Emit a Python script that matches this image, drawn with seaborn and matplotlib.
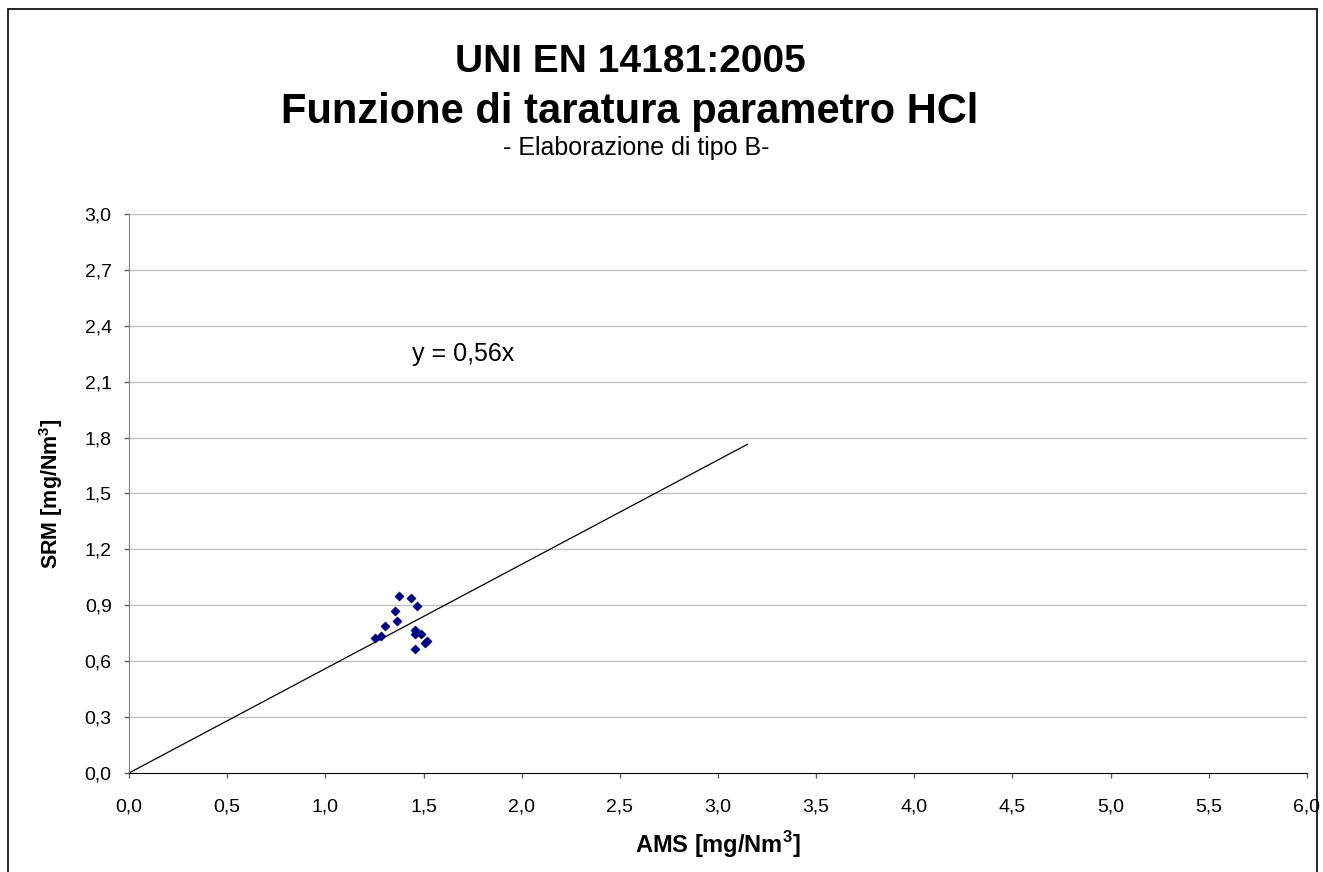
#!/usr/bin/env python3
"""Calibration function scatter (UNI EN 14181:2005), HCl parameter."""

import matplotlib.pyplot as plt
import pandas as pd
import seaborn as sns
from matplotlib.patches import Rectangle

AMS = [1.375, 1.436, 1.467, 1.355, 1.365, 1.304, 1.253, 1.284,
       1.457, 1.457, 1.487, 1.518, 1.508, 1.457]
SRM = [0.949, 0.938, 0.895, 0.871, 0.818, 0.788, 0.724, 0.735,
       0.765, 0.744, 0.744, 0.711, 0.700, 0.668]

# calibration line y = 0.56x, drawn to the last point of the trend
LINE_X = [0.0, 3.15]
LINE_Y = [0.0, 1.764]

X_TICKS = [0.0, 0.5, 1.0, 1.5, 2.0, 2.5, 3.0, 3.5, 4.0, 4.5, 5.0, 5.5, 6.0]
X_TICK_LABELS = ["0,0", "0,5", "1,0", "1,5", "2,0", "2,5", "3,0",
                 "3,5", "4,0", "4,5", "5,0", "5,5", "6,0"]
Y_TICKS = [0.0, 0.3, 0.6, 0.9, 1.2, 1.5, 1.8, 2.1, 2.4, 2.7, 3.0]
Y_TICK_LABELS = ["0,0", "0,3", "0,6", "0,9", "1,2", "1,5",
                 "1,8", "2,1", "2,4", "2,7", "3,0"]

W, H = 1323, 872


def main() -> None:
    sns.set_style("white")
    plt.rcParams["font.family"] = ["Liberation Sans", "DejaVu Sans"]
    plt.rcParams["text.color"] = "black"
    plt.rcParams["axes.labelcolor"] = "black"
    plt.rcParams["mathtext.fontset"] = "custom"
    plt.rcParams["mathtext.rm"] = "Liberation Sans"
    plt.rcParams["mathtext.bf"] = "Liberation Sans:bold"

    fig = plt.figure(figsize=(W / 100, H / 100), dpi=100)
    ax = fig.add_axes([129 / W, 1 - 773 / H, (1307 - 129) / W, (773 - 214) / H])

    # outer frame of the chart area (bottom edge is cut off in the original)
    fig.patches.append(Rectangle((8 / W, -0.05), (1317 - 8) / W, 1.05 - 9 / H,
                                 transform=fig.transFigure, fill=False,
                                 edgecolor="black", linewidth=1.2))

    for y in Y_TICKS[1:]:
        ax.axhline(y, color="#c0c0c0", linewidth=1.0, zorder=0)

    line_df = pd.DataFrame({"x": LINE_X, "y": LINE_Y})
    sns.lineplot(data=line_df, x="x", y="y", ax=ax, color="black",
                 linewidth=0.9, zorder=2)

    pts = pd.DataFrame({"AMS": AMS, "SRM": SRM})
    sns.scatterplot(data=pts, x="AMS", y="SRM", ax=ax, marker="D", s=22,
                    color="#000080", edgecolor="#000080", zorder=3)

    ax.set_xlim(0, 6)
    ax.set_ylim(0, 3)
    ax.set_xticks(X_TICKS, X_TICK_LABELS)
    ax.set_yticks(Y_TICKS, Y_TICK_LABELS)
    ax.tick_params(axis="both", labelsize=14, direction="out", length=3.5,
                   width=1, color="#606060", labelcolor="black",
                   bottom=True, left=True)
    ax.tick_params(axis="y", pad=9)
    ax.tick_params(axis="x", pad=15)
    for side in ("top", "right"):
        ax.spines[side].set_visible(False)
    ax.spines["left"].set_color("#808080")
    ax.spines["bottom"].set_color("black")

    ax.set_xlabel(r"AMS [mg/Nm$^\mathbf{3}$]", fontsize=17, fontweight="bold",
                  labelpad=10)
    ax.set_ylabel(r"SRM [mg/Nm$^\mathbf{3}$]", fontsize=15.5, fontweight="bold",
                  labelpad=14)

    ax.text(1.44, 2.25, "y = 0,56x", fontsize=18, ha="left", va="center")

    cx = 630 / W
    fig.text(cx, 1 - 62 / H, "UNI EN 14181:2005",
             fontsize=28, fontweight="bold", ha="center", va="center")
    fig.text(cx, 1 - 112 / H, "Funzione di taratura parametro HCl",
             fontsize=30, fontweight="bold", ha="center", va="center")
    fig.text(cx + 6 / W, 1 - 148 / H, "- Elaborazione di tipo B-",
             fontsize=18, ha="center", va="center")

    fig.savefig("out.png", dpi=100)
    plt.close(fig)


if __name__ == "__main__":
    main()
